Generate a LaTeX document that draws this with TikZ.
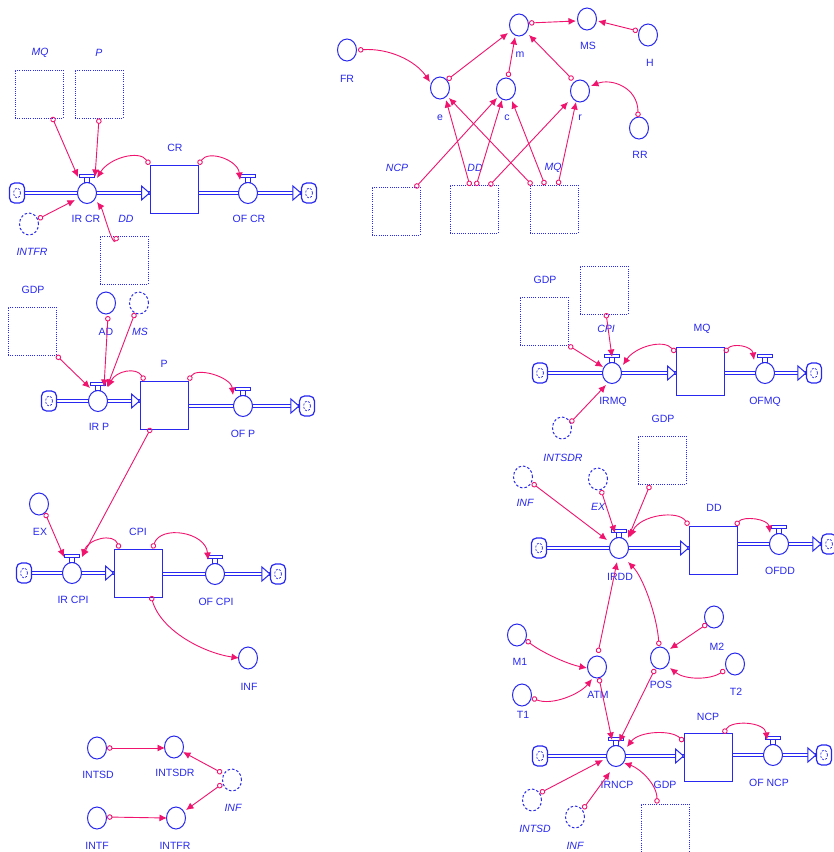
\documentclass[tikz,border=0pt]{standalone}
\usepackage{fontspec}
\setmainfont{Liberation Sans}
\usetikzlibrary{arrows.meta,shapes.geometric,calc}
\pgfdeclarelayer{bg}
\pgfsetlayers{bg,main}
\definecolor{vblue}{RGB}{40,40,240}
\definecolor{lpink}{RGB}{240,20,110}
\tikzset{
 aux/.style={ellipse,draw=vblue,line width=1pt,minimum width=19pt,minimum height=22pt,inner sep=0pt,fill=white},
 shaux/.style={aux,dash pattern=on 2.5pt off 2pt},
 valve/.style={ellipse,draw=vblue,line width=1pt,minimum width=19pt,minimum height=21pt,inner sep=0pt,fill=white},
 stock/.style={rectangle,draw=vblue,line width=1pt,minimum width=48pt,minimum height=48pt,inner sep=0pt,fill=white},
 shbox/.style={rectangle,draw=vblue,line width=0.8pt,dash pattern=on 1pt off 1.2pt,minimum width=48pt,minimum height=48pt,inner sep=0pt},
 cloudn/.style={rectangle,rounded corners=5pt,draw=vblue,line width=1.2pt,minimum width=15pt,minimum height=20pt,inner sep=0pt,fill=white,
   path picture={\draw[vblue,line width=0.7pt,dash pattern=on 2pt off 1.5pt] (path picture bounding box.center) ellipse (3.5pt and 5pt);}},
 lbl/.style={text=vblue,font=\fontsize{10.5}{12}\selectfont,inner sep=0pt},
 ilbl/.style={text=vblue,font=\fontsize{10.5}{12}\selectfont\itshape,inner sep=0pt},
 pipe/.style={draw=vblue,line width=1pt,double=white,double distance=2.6pt},
 phead/.style={draw=vblue,line width=1pt,fill=white,line join=miter},
 link/.style={draw=lpink,line width=0.9pt,{Circle[open,length=5.5pt,width=5.5pt]}-{Latex[length=7.5pt,width=7pt]}},
 hatbar/.style={draw=vblue,fill=white,line width=0.9pt},
}
\newcommand\vhat[1]{\draw[hatbar] ([xshift=-2.5pt]#1.north) rectangle ([xshift=2.5pt,yshift=5pt]#1.north);
 \draw[hatbar] ([xshift=-7.5pt,yshift=5pt]#1.north) rectangle ([xshift=7.5pt,yshift=8pt]#1.north);}
\begin{document}
\begin{tikzpicture}[x=1pt,y=-1pt]
\useasboundingbox (0,0) rectangle (834,852);

% ===== CR =====
\node[shbox] (MQs1) at (39,94) {};
\node[ilbl] (tMQs1) at (40,53) {MQ};
\node[shbox] (Ps1) at (99,94) {};
\node[ilbl] (tPs1) at (99,53) {P};
\node[cloudn] (cl1) at (17,193) {};
\node[valve] (IRCR) at (87,193) {};
\node[stock] (CR) at (174,189) {};
\node[valve] (OFCR) at (248,193) {};
\node[cloudn] (cr1) at (309,193) {};
\node[lbl] (tCR) at (175,148) {CR};
\node[lbl] (tIRCR) at (86,219) {IR CR};
\node[lbl] (tOFCR) at (249,219) {OF CR};
\node[shaux] (INTFRs) at (29,224) {};
\node[ilbl] (tINTFRs) at (32,252) {INTFR};
\node[ilbl] (tDDs1) at (126,219) {DD};
\node[shbox] (DDs1) at (124,260) {};
\vhat{IRCR}\vhat{OFCR}

% ===== top middle =====
\node[aux] (m) at (519,25) {};
\node[lbl] (tm) at (520,55) {m};
\node[aux] (MS) at (587,19) {};
\node[lbl] (tMS) at (588,46) {MS};
\node[aux] (H) at (648,35) {};
\node[lbl] (tH) at (650,63) {H};
\node[aux] (FR) at (347,50) {};
\node[lbl] (tFR) at (347,79) {FR};
\node[aux] (e) at (440,88) {};
\node[lbl] (te) at (440,118) {e};
\node[aux] (c) at (506,89) {};
\node[lbl] (tc) at (507,118) {c};
\node[aux] (r) at (580,91) {};
\node[lbl] (tr) at (580,118) {r};
\node[aux] (RR) at (639,128) {};
\node[lbl] (tRR) at (640,155) {RR};
\node[shbox] (NCPs1) at (396,211) {};
\node[ilbl] (tNCPs1) at (397,168) {NCP};
\node[shbox] (DDs2) at (474,209) {};
\node[ilbl] (tDDs2) at (475,168) {DD};
\node[shbox] (MQs2) at (554,209) {};
\node[ilbl] (tMQs2) at (553,168) {MQ};

% ===== P =====
\node[lbl] (tGDP1) at (33,290) {GDP};
\node[shbox] (GDPs1) at (32,331) {};
\node[aux] (AD) at (106,303) {};
\node[lbl] (tAD) at (106,332) {AD};
\node[shaux] (MSs) at (139,303) {};
\node[ilbl] (tMSs) at (140,332) {MS};
\node[cloudn] (cl2) at (49,401) {};
\node[valve] (IRP) at (98,401) {};
\node[stock] (P) at (164,405) {};
\node[valve] (OFP) at (243,406) {};
\node[cloudn] (cr2) at (307,406) {};
\node[lbl] (tP) at (164,364) {P};
\node[lbl] (tIRP) at (99,427) {IR P};
\node[lbl] (tOFP) at (243,434) {OF P};
\vhat{IRP}\vhat{OFP}

% ===== CPI =====
\node[aux] (EX) at (39,504) {};
\node[lbl] (tEX) at (40,532) {EX};
\node[cloudn] (cl3) at (24,573) {};
\node[valve] (IRCPI) at (72,573) {};
\node[stock] (CPI) at (138,573) {};
\node[valve] (OFCPI) at (215,574) {};
\node[cloudn] (cr3) at (278,574) {};
\node[lbl] (tCPI) at (138,532) {CPI};
\node[lbl] (tIRCPI) at (73,600) {IR CPI};
\node[lbl] (tOFCPI) at (216,602) {OF CPI};
\node[aux] (INF) at (248,658) {};
\node[lbl] (tINF) at (249,687) {INF};
\vhat{IRCPI}\vhat{OFCPI}

% ===== INT =====
\node[aux] (INTSD) at (97,748) {};
\node[lbl] (tINTSD) at (98,775) {INTSD};
\node[aux] (INTSDR) at (174,747) {};
\node[lbl] (tINTSDR) at (175,773) {INTSDR};
\node[shaux] (INFs1) at (232,780) {};
\node[ilbl] (tINFs1) at (233,808) {INF};
\node[aux] (INTF) at (97,818) {};
\node[lbl] (tINTF) at (97,846) {INTF};
\node[aux] (INTFR) at (176,818) {};
\node[lbl] (tINTFR) at (175,846) {INTFR};

% ===== MQ =====
\node[lbl] (tGDP2) at (545,280) {GDP};
\node[shbox] (GDPs2) at (544,321) {};
\node[shbox] (CPIs) at (604,290) {};
\node[ilbl] (tCPIs) at (606,329) {CPI};
\node[cloudn] (cl4) at (540,373) {};
\node[valve] (IRMQ) at (612,373) {};
\node[stock] (MQ) at (700,371) {};
\node[valve] (OFMQ) at (765,373) {};
\node[cloudn] (cr4) at (814,373) {};
\node[lbl] (tMQ) at (702,329) {MQ};
\node[lbl] (tIRMQ) at (613,402) {IRMQ};
\node[lbl] (tOFMQ) at (765,402) {OFMQ};
\node[shaux] (INTSDRs) at (562,428) {};
\node[ilbl] (tINTSDRs) at (563,458) {INTSDR};
\vhat{IRMQ}\vhat{OFMQ}

% ===== DD =====
\node[lbl] (tGDP3) at (663,419) {GDP};
\node[shbox] (GDPs3) at (662,460) {};
\node[shaux] (INFs2) at (523,477) {};
\node[ilbl] (tINFs2) at (525,503) {INF};
\node[shaux] (EXs) at (598,479) {};
\node[ilbl] (tEXs) at (598,507) {EX};
\node[cloudn] (cl5) at (539,548) {};
\node[valve] (IRDD) at (619,548) {};
\node[stock] (DD) at (713,550) {};
\node[valve] (OFDD) at (779,544) {};
\node[cloudn] (cr5) at (829,544) {};
\node[lbl] (tDD) at (714,508) {DD};
\node[lbl] (tIRDD) at (620,577) {IRDD};
\node[lbl] (tOFDD) at (780,571) {OFDD};
\vhat{IRDD}\vhat{OFDD}

% ===== ATM / POS =====
\node[aux] (M1) at (517,635) {};
\node[lbl] (tM1) at (520,662) {M1};
\node[aux] (T1) at (522,695) {};
\node[lbl] (tT1) at (523,715) {T1};
\node[aux] (ATM) at (597,667) {};
\node[lbl] (tATM) at (598,695) {ATM};
\node[aux] (POS) at (660,658) {};
\node[lbl] (tPOS) at (661,685) {POS};
\node[aux] (M2) at (714,617) {};
\node[lbl] (tM2) at (717,647) {M2};
\node[aux] (T2) at (735,664) {};
\node[lbl] (tT2) at (736,692) {T2};

% ===== NCP =====
\node[cloudn] (cl6) at (540,756) {};
\node[valve] (IRNCP) at (616,756) {};
\node[stock] (NCP) at (708,757) {};
\node[valve] (OFNCP) at (773,755) {};
\node[cloudn] (cr6) at (824,755) {};
\node[lbl] (tNCP) at (708,717) {NCP};
\node[lbl] (tIRNCP) at (617,785) {IRNCP};
\node[lbl] (tOFNCP) at (769,783) {OF NCP};
\node[lbl] (tGDP4) at (665,785) {GDP};
\node[shbox] (GDPs4) at (665,828) {};
\node[shaux] (INTSDs) at (532,800) {};
\node[ilbl] (tINTSDs) at (535,829) {INTSD};
\node[shaux] (INFs3) at (575,817) {};
\node[ilbl] (tINFs3) at (575,846) {INF};
\vhat{IRNCP}\vhat{OFNCP}

% ===== pipes =====
\begin{pgfonlayer}{bg}
\fill[white] (0,0) rectangle (834,852);
\foreach \pcl/\pva/\pst/\pov/\pcr in {cl1/IRCR/CR/OFCR/cr1, cl2/IRP/P/OFP/cr2, cl3/IRCPI/CPI/OFCPI/cr3, cl4/IRMQ/MQ/OFMQ/cr4, cl5/IRDD/DD/OFDD/cr5, cl6/IRNCP/NCP/OFNCP/cr6}{
  \draw[pipe] (\pcl.east) -- (\pst.west |- \pva.center);
  \draw[phead] (\pst.west |- \pva.center) -- ++(-8,-7) -- ++(0,14) -- cycle;
  \draw[pipe] (\pst.east |- \pov.center) -- (\pcr.west);
  \draw[phead] (\pcr.west) -- ++(-8,-7) -- ++(0,14) -- cycle;
}
\end{pgfonlayer}

% ===== links =====
% CR
\draw[link] ([shift={(13,23)}]MQs1.center) -- ([shift={(-9,-16)}]IRCR.center);
\draw[link] (Ps1.south) -- ([shift={(8,-16)}]IRCR.center);
\draw[link] (CR.north west) .. controls +(-10,-15) and +(12,-20) .. ([shift={(10,-15)}]IRCR.center);
\draw[link] (CR.north east) .. controls +(10,-15) and +(-2,-20) .. ([shift={(-8,-13)}]OFCR.center);
\draw[link] ([shift={(9,-5)}]INTFRs.center) -- ([shift={(-12,7)}]IRCR.center);
\draw[link] ([shift={(-7,-24)}]DDs1.center) .. controls +(-4,12) and +(6,8) .. ([shift={(10,9)}]IRCR.center);
% top middle
\draw[link] ([shift={(11,0)}]FR.center) .. controls +(30,-2) and +(-15,-22) .. ([shift={(-10,-6)}]e.center);
\draw[link] ([shift={(7,-8)}]e.center) -- ([shift={(-11,8)}]m.center);
\draw[link] ([shift={(2,-12)}]c.center) -- ([shift={(-4,12)}]m.center);
\draw[link] ([shift={(-7,-11)}]r.center) -- ([shift={(10,10)}]m.center);
\draw[link] ([shift={(10,-2)}]m.center) -- ([shift={(-11,2)}]MS.center);
\draw[link] ([shift={(-10,-4)}]H.center) -- ([shift={(11,2)}]MS.center);
\draw[link] ([shift={(-1,-11)}]RR.center) .. controls +(0,-30) and +(20,-8) .. ([shift={(11,-5)}]r.center);
\draw[link] ([shift={(19,-23)}]NCPs1.center) -- ([shift={(-9,9)}]c.center);
\draw[link] ([shift={(-4,-23)}]DDs2.center) -- ([shift={(6,12)}]e.center);
\draw[link] ([shift={(2,-23)}]DDs2.center) -- ([shift={(-4,11)}]c.center);
\draw[link] ([shift={(15,-23)}]DDs2.center) -- ([shift={(-12,11)}]r.center);
\draw[link] ([shift={(-22,-24)}]MQs2.center) -- ([shift={(9,10)}]e.center);
\draw[link] ([shift={(-9,-24)}]MQs2.center) -- ([shift={(6,12)}]c.center);
\draw[link] ([shift={(4,-24)}]MQs2.center) -- ([shift={(-4,11)}]r.center);
% P
\draw[link] (GDPs1.south east) -- ([shift={(-8,-13)}]IRP.center);
\draw[link] ([shift={(2,13)}]AD.center) -- ([shift={(6,-14)}]IRP.center);
\draw[link] ([shift={(-4,10)}]MSs.center) -- ([shift={(9,-14)}]IRP.center);
\draw[link] ([shift={(5,0)}]P.north west) .. controls +(-8,-14) and +(8,-16) .. ([shift={(10,-14)}]IRP.center);
\draw[link] (P.north east) .. controls +(8,-14) and +(-2,-18) .. ([shift={(-10,-11)}]OFP.center);
\draw[link] ([shift={(-13,23)}]P.center) -- ([shift={(10,-16)}]IRCPI.center);
% CPI
\draw[link] ([shift={(6,9)}]EX.center) -- ([shift={(-8,-16)}]IRCPI.center);
\draw[link] ([shift={(6,0)}]CPI.north west) .. controls +(-6,-16) and +(6,-18) .. ([shift={(10,-16)}]IRCPI.center);
\draw[link] ([shift={(-10,0)}]CPI.north east) .. controls +(8,-24) and +(-2,-28) .. ([shift={(-7,-14)}]OFCPI.center);
\draw[link] ([shift={(13,23)}]CPI.center) .. controls +(10,35) and +(-35,-5) .. ([shift={(-9,0)}]INF.center);
% INT
\draw[link] ([shift={(10,0)}]INTSD.center) -- ([shift={(-9,1)}]INTSDR.center);
\draw[link] ([shift={(-10,-7)}]INFs1.center) -- ([shift={(9,5)}]INTSDR.center);
\draw[link] ([shift={(-10,4)}]INFs1.center) -- ([shift={(10,-8)}]INTFR.center);
\draw[link] ([shift={(10,-1)}]INTF.center) -- ([shift={(-9,0)}]INTFR.center);
% MQ
\draw[link] (GDPs2.south east) -- ([shift={(-9,-6)}]IRMQ.center);
\draw[link] ([shift={(2,23)}]CPIs.center) -- ([shift={(0,-16)}]IRMQ.center);
\draw[link] ([shift={(0,6)}]MQ.north west) .. controls +(-12,-14) and +(12,-18) .. ([shift={(11,-8)}]IRMQ.center);
\draw[link] ([shift={(0,6)}]MQ.north east) .. controls +(8,-10) and +(-2,-14) .. ([shift={(-11,-13)}]OFMQ.center);
\draw[link] ([shift={(8,-5)}]INTSDRs.center) -- ([shift={(-6,12)}]IRMQ.center);
% DD
\draw[link] ([shift={(9,6)}]INFs2.center) -- ([shift={(-12,-8)}]IRDD.center);
\draw[link] ([shift={(3,11)}]EXs.center) -- ([shift={(-4,-15)}]IRDD.center);
\draw[link] ([shift={(-12,25)}]GDPs3.center) -- ([shift={(9,-10)}]IRDD.center);
\draw[link] (DD.north west) .. controls +(-10,-16) and +(10,-22) .. ([shift={(11,-11)}]IRDD.center);
\draw[link] ([shift={(-2,0)}]DD.north east) .. controls +(8,-10) and +(-2,-14) .. ([shift={(-9,-11)}]OFDD.center);
\draw[link] ([shift={(1,-14)}]ATM.center) -- ([shift={(-2,14)}]IRDD.center);
\draw[link] ([shift={(-1,-12)}]POS.center) .. controls +(-2,-30) and +(15,15) .. ([shift={(9,14)}]IRDD.center);
% ATM / POS
\draw[link] ([shift={(9,5)}]M1.center) .. controls +(15,12) and +(-20,-4) .. ([shift={(-10,1)}]ATM.center);
\draw[link] ([shift={(10,3)}]T1.center) .. controls +(20,8) and +(-12,15) .. ([shift={(-5,12)}]ATM.center);
\draw[link] ([shift={(2,11)}]ATM.center) -- ([shift={(-4,-16)}]IRNCP.center);
\draw[link] ([shift={(-5,11)}]POS.center) -- ([shift={(3,-14)}]IRNCP.center);
\draw[link] ([shift={(-7,7)}]M2.center) -- ([shift={(10,-9)}]POS.center);
\draw[link] ([shift={(-10,6)}]T2.center) .. controls +(-15,10) and +(15,12) .. ([shift={(10,10)}]POS.center);
% NCP
\draw[link] ([shift={(0,9)}]NCP.north west) .. controls +(-12,-12) and +(12,-16) .. ([shift={(11,-9)}]IRNCP.center);
\draw[link] ([shift={(-9,1)}]NCP.north east) .. controls +(8,-14) and +(-2,-18) .. ([shift={(-6,-15)}]OFNCP.center);
\draw[link] ([shift={(8,-7)}]INTSDs.center) -- ([shift={(-13,4)}]IRNCP.center);
\draw[link] ([shift={(8,-8)}]INFs3.center) -- ([shift={(-6,16)}]IRNCP.center);
\draw[link] ([shift={(-8,0)}]GDPs4.north) .. controls +(0,-20) and +(15,5) .. ([shift={(8,7)}]IRNCP.center);
\end{tikzpicture}
\end{document}
